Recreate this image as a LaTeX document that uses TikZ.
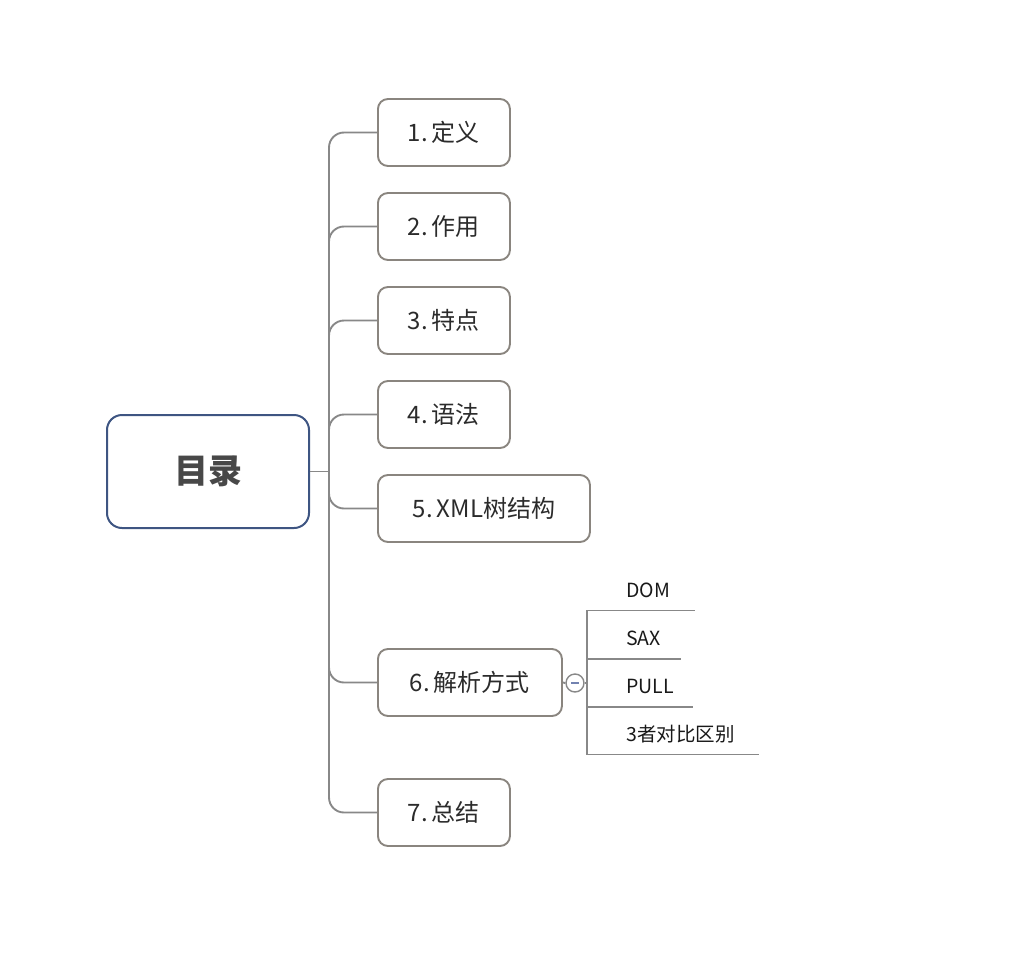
\documentclass[tikz,border=0pt]{standalone}
\usepackage{fontspec}
\setmainfont{Noto Sans CJK SC}
\begin{document}
\definecolor{boxgray}{HTML}{8A857F}
\definecolor{linegray}{HTML}{888888}
\definecolor{rootblue}{HTML}{3E5582}
\definecolor{textc}{HTML}{2B2B2B}
\definecolor{roottext}{HTML}{484848}
\definecolor{minusc}{HTML}{7282B0}
\begin{tikzpicture}[x=1pt,y=-1pt,
  rootbox/.style={draw=rootblue, line width=2pt, rounded corners=15pt, minimum width=202pt, minimum height=113pt, inner sep=0pt, text=roottext, font=\fontsize{34}{38}\selectfont\bfseries},
  topicbox/.style={draw=boxgray, line width=1.9pt, rounded corners=10pt, minimum height=67pt, inner sep=0pt, anchor=west, text=textc, font=\fontsize{24}{28}\selectfont},
  conn/.style={draw=linegray, line width=1.9pt},
  leaftext/.style={anchor=base west, inner sep=0pt, text=black!90, font=\fontsize{19.5}{23}\selectfont}
]
\useasboundingbox (0,0) rectangle (1014,966);

\node[rootbox] (root) at (208,471.5) {目录};
\coordinate (j) at (329,471.5);

\node[topicbox, minimum width=132pt] (b1) at (377,132.5) {1.\,定义};
\node[topicbox, minimum width=132pt] (b2) at (377,226.5) {2.\,作用};
\node[topicbox, minimum width=132pt] (b3) at (377,320.5) {3.\,特点};
\node[topicbox, minimum width=132pt] (b4) at (377,414.5) {4.\,语法};
\node[topicbox, minimum width=212pt] (b5) at (377,508.5) {5.\,XML树结构};
\node[topicbox, minimum width=184pt] (b6) at (377,682.5) {6.\,解析方式};
\node[topicbox, minimum width=132pt] (b7) at (377,812.5) {7.\,总结};

\draw[conn] (root.east) -- (j);
\foreach \b in {b1,b2,b3,b4,b5,b6,b7}{
  \draw[conn, rounded corners=15pt] (j) |- (\b.west);
}

% toggle circle
\node[circle, draw=linegray, line width=1.4pt, fill=white, minimum size=18pt, inner sep=0pt] (tog) at (575,683) {};
\draw[minusc, line width=1.4pt] ([xshift=-4pt]tog.center) -- ([xshift=4pt]tog.center);
\coordinate (hub) at (587,683);
\draw[conn] (b6.east) -- (tog.west);
\draw[conn] (tog.east) -- (hub);

% leaves
\node[leaftext] (dom) at (626,597) {DOM};
\node[leaftext] (sax) at (626,645) {SAX};
\node[leaftext] (pull) at (626,693) {PULL};
\node[leaftext] (cmp) at (626,741) {3者对比区别};
\coordinate (domL) at (587,610.5);  \coordinate (domR) at (695,610.5);
\coordinate (saxL) at (587,659);    \coordinate (saxR) at (681,659);
\coordinate (pullL) at (587,707);   \coordinate (pullR) at (693,707);
\coordinate (cmpL) at (587,754.5);  \coordinate (cmpR) at (759,754.5);
\draw[conn] (hub) |- (domL) -- (domR);
\draw[conn] (hub) |- (saxL) -- (saxR);
\draw[conn] (hub) |- (pullL) -- (pullR);
\draw[conn] (hub) |- (cmpL) -- (cmpR);
\end{tikzpicture}
\end{document}
